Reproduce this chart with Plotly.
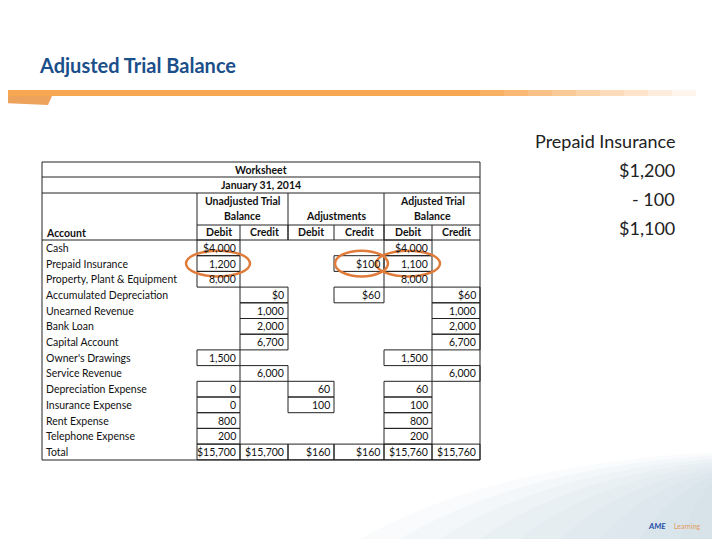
import plotly.graph_objects as go

accounts = ["Cash", "Prepaid Insurance", "Property, Plant & Equipment", "Accumulated Depreciation",
            "Unearned Revenue", "Bank Loan", "Capital Account", "Owner's Drawings", "Service Revenue",
            "Depreciation Expense", "Insurance Expense", "Rent Expense", "Telephone Expense", "Total"]
unadj_debit = ["$4,000", "1,200", "8,000", "", "", "", "", "1,500", "", "0", "0", "800", "200", "$15,700"]
unadj_credit = ["", "", "", "$0", "1,000", "2,000", "6,700", "", "6,000", "", "", "", "", "$15,700"]
adj_debit = ["", "", "", "", "", "", "", "", "", "60", "100", "", "", "$160"]
adj_credit = ["", "$100", "", "$60", "", "", "", "", "", "", "", "", "", "$160"]
atb_debit = ["$4,000", "1,100", "8,000", "", "", "", "", "1,500", "", "60", "100", "800", "200", "$15,760"]
atb_credit = ["", "", "", "$60", "1,000", "2,000", "6,700", "", "6,000", "", "", "", "", "$15,760"]
side_lines = ["Prepaid Insurance", "$1,200", "- 100", "$1,100"]

cols = [unadj_debit, unadj_credit, adj_debit, adj_credit, atb_debit, atb_credit]
xb = [42, 197, 240, 288, 334, 384, 432, 480]
row_top = 241
rh = 15.7
font = "Lato"
ink = "#111111"

fig = go.Figure()
shapes = []
ann = []

def line(x0, y0, x1, y1):
    shapes.append(dict(type="line", x0=x0, y0=y0, x1=x1, y1=y1, line=dict(color="#222", width=1)))

def txt(x, y, s, anchor="center", size=10.5, color=ink, bold=False):
    ann.append(dict(x=x, y=y, text=f"<b>{s}</b>" if bold else s, showarrow=False, xanchor=anchor,
                    yanchor="middle", font=dict(family=font, size=size, color=color)))

# soft blue corner at bottom right
for i in range(10):
    shapes.append(dict(type="path", layer="below", line_width=0,
                       path=f"M {720 - i * 40} 540 Q {720 - i * 25} {500 - i * 4} 720 {480 - i * 3} L 720 540 Z",
                       fillcolor="rgba(190,208,225,0.09)"))
# orange banner
for i in range(30):
    a = 1.0 if i < 20 else max(0, 1 - (i - 19) / 10)
    shapes.append(dict(type="rect", x0=i * 24, y0=91, x1=i * 24 + 24, y1=97, line_width=0,
                       fillcolor=f"rgba(247,167,82,{a:.2f})"))
shapes.append(dict(type="path", path="M 0 97 L 52 97 L 48 106 L 0 104 Z", line_width=0,
                   fillcolor="rgba(232,140,50,0.8)"))
txt(37, 66, "Adjusted Trial Balance", "left", 20, "#1B4F8A", True)

# table frame and header
line(42, 163, 480, 163); line(42, 178, 480, 178); line(42, 194, 480, 194)
line(42, 163, 42, 461); line(480, 163, 480, 461)
line(197, 194, 197, 241); line(288, 194, 288, 241); line(384, 194, 384, 241)
line(197, 226, 480, 226); line(42, 241, 480, 241)
for x in xb[2:-1]:
    line(x, 226, x, 241)
txt(261, 171, "Worksheet", bold=True)
txt(261, 186, "January 31, 2014", bold=True)
for (a, b), h in zip([(197, 288), (288, 384), (384, 480)],
                     [("Unadjusted Trial", "Balance"), ("", "Adjustments"), ("Adjusted Trial", "Balance")]):
    if h[0]:
        txt((a + b) / 2, 202, h[0], bold=True)
    txt((a + b) / 2, 217, h[1], bold=True)
txt(44, 234, "Account", "left", bold=True)
for j, h in enumerate(["Debit", "Credit"] * 3):
    txt((xb[j + 1] + xb[j + 2]) / 2, 233, h, bold=True)

for i, acc in enumerate(accounts):
    yc = row_top + rh * (i + 0.5)
    txt(44, yc, acc, "left")
    for j, col in enumerate(cols):
        if col[i]:
            x0, x1 = xb[j + 1], xb[j + 2]
            shapes.append(dict(type="rect", x0=x0, y0=row_top + rh * i, x1=x1, y1=row_top + rh * (i + 1),
                               line=dict(color="#222", width=1)))
            txt(x1 - 2, yc, col[i], "right")
line(42, 461, 480, 461)

# orange highlight circles
for x0, x1 in [(186, 250), (335, 388), (376, 440)]:
    shapes.append(dict(type="circle", x0=x0, y0=row_top + rh - 5, x1=x1, y1=row_top + 2 * rh + 5,
                       line=dict(color="#E07B39", width=2.5)))

for k, s in enumerate(side_lines):
    txt(677, 142 + 29 * k, s, "right", 18, "#222")

# AME logo
txt(668, 527, "<b><i>AME</i></b>", "right", 8, "#1F4FA8")
txt(672, 527, "Learning", "left", 7, "#E39A5A")

# page body margin offsets the figure by 8px; compensate in the ranges
fig.update_layout(width=720, height=540, margin=dict(l=0, r=0, t=0, b=0),
                  plot_bgcolor="white", paper_bgcolor="white", shapes=shapes, annotations=ann,
                  xaxis=dict(range=[8, 728], visible=False),
                  yaxis=dict(range=[549, 9], visible=False), showlegend=False)
fig.write_html("out.html")
